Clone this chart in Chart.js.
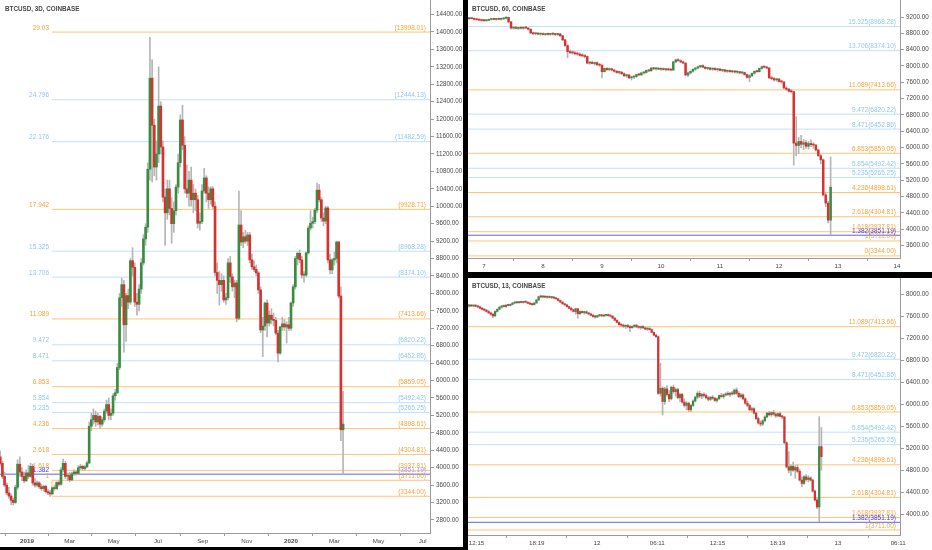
<!DOCTYPE html>
<html>
<head>
<meta charset="utf-8">
<script src="https://cdn.jsdelivr.net/npm/chart.js@4.4.1/dist/chart.umd.min.js"></script>
<style>
  html, body { margin: 0; padding: 0; background: #000; width: 932px; height: 550px; overflow: hidden; }
  .pane { position: absolute; background: #fff; }
  #p1 { left: 0; top: 0; width: 463px; height: 547px; }
  #p2 { left: 468px; top: 0; width: 464px; height: 272px; }
  #p3 { left: 468px; top: 278px; width: 464px; height: 272px; }
  canvas { display: block; }
</style>
</head>
<body>
<div class="pane" id="p1"><canvas id="c1" width="463" height="547"></canvas></div>
<div class="pane" id="p2"><canvas id="c2" width="464" height="272"></canvas></div>
<div class="pane" id="p3"><canvas id="c3" width="464" height="272"></canvas></div>
<script>
// fib extension levels (shared by all three panes)
const fibRatios = ['0', '1', '1.382', '1.618', '2.618', '4.236', '5.235', '5.854', '6.853', '8.471',
                   '9.472', '11.089', '13.706', '15.325', '17.942', '22.176', '24.796', '29.03'];
const fibPrices = [3344.00, 3711.00, 3851.19, 3937.81, 4304.81, 4898.61, 5265.25, 5492.42, 5859.05, 6452.86,
                   6820.22, 7413.66, 8374.10, 8968.28, 9928.71, 11482.59, 12444.13, 13998.01];

// 3D pane: x in days from 1 Jan 2019
const dayTicks3D = [0, 59, 120, 181, 243, 304, 365, 425, 486, 547];
const dayLabels3D = ['2019', 'Mar', 'May', 'Jul', 'Sep', 'Nov', '2020', 'Mar', 'May', 'Jul'];
const priceTicks3D = [2800, 3200, 3600, 4000, 4400, 4800, 5200, 5600, 6000, 6400, 6800, 7200, 7600, 8000, 8400,
                      8800, 9200, 9600, 10000, 10400, 10800, 11200, 11600, 12000, 12400, 12800, 13200, 13600, 14000, 14400];
const firstDay3D = -37;
// [open, high, low, close]
const candles3D = [
  [4250,4380,4050,4100],[4100,4150,3750,3800],[3800,3900,3560,3600],[3600,3650,3380,3420],[3420,3550,3300,3350],
  [3350,3400,3150,3250],[3250,3300,3140,3200],[3200,3600,3180,3550],[3550,4180,3500,4080],[4080,4250,3800,3900],
  [3900,4000,3700,3800],[3800,3900,3650,3700],[3700,3950,3680,3880],[3880,4050,3750,3800],[3800,4100,3780,4030],
  [4030,4080,3600,3650],[3650,3750,3550,3600],[3600,3700,3560,3650],[3650,3680,3520,3560],[3560,3620,3480,3520],
  [3520,3600,3460,3570],[3570,3600,3420,3450],[3450,3500,3380,3420],[3420,3480,3340,3400],[3400,3560,3380,3540],
  [3540,3600,3480,3520],[3520,3680,3500,3660],[3660,3700,3580,3620],[3620,4000,3600,3950],[3950,4200,3900,4100],
  [4100,4150,3750,3800],[3800,3880,3700,3820],[3820,3900,3680,3720],[3720,3900,3700,3860],[3860,3950,3820,3900],
  [3900,3930,3830,3870],[3870,4050,3850,4000],[4000,4080,3960,4030],[4030,4060,3950,3980],[3980,4050,3940,4020],
  [4020,4150,4000,4110],[4110,5050,4090,4950],[4950,5250,4850,5100],[5100,5350,5000,5200],[5200,5300,4950,5050],
  [5050,5250,4980,5180],[5180,5200,4900,5000],[5000,5150,4950,5100],[5100,5350,5050,5300],[5300,5550,5250,5450],
  [5450,5600,5100,5200],[5200,5350,5100,5250],[5250,5700,5200,5650],[5650,5800,5550,5720],[5720,6400,5700,6300],
  [6300,8000,6250,7900],[7900,8350,7700,8200],[8200,8300,6650,7280],[7280,8000,6900,7950],[7950,8100,7650,7800],
  [7800,8800,7750,8750],[8750,9050,8400,8600],[8600,8700,7700,7800],[7800,8000,7500,7750],[7750,8200,7600,8100],
  [8100,8800,8000,8700],[8700,9350,8650,9250],[9250,9600,9100,9520],[9520,11000,9400,10850],[10850,13880,10600,12940],
  [12940,13360,10560,11860],[11860,12000,10700,10900],[10900,11500,10600,11200],[11200,13200,11000,12300],[12300,12400,11200,11360],
  [11360,11500,10100,10210],[10210,10400,9100,9850],[9850,10600,9700,10400],[10400,10600,9800,9950],[9950,10200,9150,9600],
  [9600,10100,9400,9900],[9900,10500,9800,10440],[10440,11200,10300,11000],[11000,12100,10900,11980],[11980,12320,11300,11400],
  [11400,11600,10300,10400],[10400,10950,10200,10300],[10300,10800,10000,10600],[10600,10900,10000,10150],[10150,10500,9850,10300],
  [10300,10400,9900,10150],[10150,10250,9500,9610],[9610,9850,9450,9650],[9650,10500,9600,10350],[10350,10870,10300,10650],
  [10650,10700,10100,10300],[10300,10450,9950,10150],[10150,10450,10050,10400],[10400,10450,9950,10000],[10000,10100,8400,8480],
  [8480,8700,8000,8300],[8300,8500,7730,8200],[8200,8450,8050,8300],[8300,8400,7800,7850],[7850,8000,7750,7900],
  [7900,8800,7850,8700],[8700,8850,8250,8380],[8380,8450,8050,8150],[8150,8300,7900,8240],[8240,8300,7350,7430],
  [7430,10350,7400,9570],[9570,9900,9100,9180],[9180,9400,9050,9300],[9300,9450,9150,9200],[9200,9400,9100,9340],
  [9340,9400,8700,8770],[8770,8900,8550,8610],[8610,8750,8500,8550],[8550,8650,8400,8470],[8470,8500,8000,8080],
  [8080,8150,7100,7160],[7160,7450,6550,7250],[7250,7800,7150,7780],[7780,7850,7000,7320],[7320,7600,7250,7500],
  [7500,7650,7300,7400],[7400,7550,7250,7380],[7380,7450,7050,7090],[7090,7150,6430,6630],[6630,7250,6600,7230],
  [7230,7450,7150,7300],[7300,7400,7150,7230],[7230,7350,6860,7280],[7280,7450,7150,7200],[7200,7800,7150,7780],
  [7780,8200,7700,8150],[8150,8850,8100,8800],[8800,8950,8650,8920],[8920,9000,8700,8770],[8770,8850,8350,8420],
  [8420,8500,8250,8420],[8420,8950,8380,8930],[8930,9550,8900,9500],[9500,9900,9450,9610],[9610,9750,9500,9650],
  [9650,9950,9600,9910],[9910,10530,9850,10370],[10370,10500,10100,10150],[10150,10200,9650,9730],[9730,9850,9550,9660],
  [9660,10000,9600,9960],[9960,10000,8700,8770],[8770,8900,8450,8540],[8540,8800,8450,8770],[8770,8950,8650,8800],
  [8800,9200,8700,9180],[9180,9200,7900,7940],[7940,8150,4620,4870],[4870,5750,3850,5000]
];

// 60 pane: x in days of March 2020
const dayTicks60 = [7, 8, 9, 10, 11, 12, 13, 14];
const dayLabels60 = ['7', '8', '9', '10', '11', '12', '13', '14'];
const priceTicks60 = [3600, 4000, 4400, 4800, 5200, 5600, 6000, 6400, 6800, 7200, 7600, 8000, 8400, 8800, 9200];
const firstDay60 = 6.75;
const candles60 = [
  [9160,9190,9140,9170],[9170,9185,9150,9160],[9160,9175,9130,9145],[9145,9160,9120,9135],[9135,9150,9110,9125],
  [9125,9140,9100,9115],[9115,9135,9095,9110],[9110,9130,9090,9120],[9120,9150,9110,9140],[9140,9160,9125,9150],
  [9150,9165,9130,9140],[9140,9160,9120,9150],[9150,9170,9135,9145],[9145,9165,9125,9155],[9155,9180,9140,9170],
  [9170,9210,9150,9190],[9190,9200,9060,9080],[9080,9090,8900,8930],[8930,8960,8900,8940],[8940,8970,8910,8920],
  [8920,8950,8895,8935],[8935,8960,8910,8925],[8925,8955,8900,8940],[8940,8970,8915,8930],[8930,8945,8880,8900],
  [8900,8910,8790,8810],[8810,8830,8770,8790],[8790,8815,8765,8800],[8800,8820,8770,8780],[8780,8805,8755,8790],
  [8790,8810,8760,8770],[8770,8800,8750,8785],[8785,8805,8755,8775],[8775,8800,8750,8790],[8790,8810,8760,8780],
  [8780,8800,8745,8770],[8770,8795,8740,8785],[8785,8800,8720,8740],[8740,8750,8620,8640],[8640,8660,8480,8500],
  [8500,8520,8200,8350],[8350,8390,8300,8330],[8330,8370,8290,8320],[8320,8350,8270,8300],[8300,8340,8260,8290],
  [8290,8320,8240,8260],[8260,8300,8220,8250],[8250,8280,8200,8230],[8230,8240,8050,8070],[8070,8110,8040,8090],
  [8090,8120,8050,8060],[8060,8100,8020,8080],[8080,8100,8010,8030],[8030,8060,7990,8020],[8020,8030,7705,7860],
  [7860,7950,7850,7940],[7940,7960,7890,7910],[7910,7950,7880,7930],[7930,7945,7880,7900],[7900,7920,7850,7870],
  [7870,7890,7820,7840],[7840,7870,7800,7850],[7850,7860,7790,7810],[7810,7830,7740,7760],[7760,7800,7720,7780],
  [7780,7790,7690,7710],[7710,7750,7655,7730],[7730,7760,7690,7740],[7740,7800,7720,7790],[7790,7820,7760,7780],
  [7780,7840,7770,7830],[7830,7860,7800,7840],[7840,7900,7820,7890],[7890,7910,7860,7880],[7880,7960,7870,7950],
  [7950,7970,7910,7930],[7930,7960,7900,7945],[7945,7965,7910,7920],[7920,7950,7890,7935],[7935,7955,7900,7910],
  [7910,7940,7880,7925],[7925,7945,7890,7905],[7905,7930,7880,7900],[7900,8120,7890,8100],[8100,8170,8080,8150],
  [8150,8180,8110,8130],[8130,8150,8080,8100],[8100,8120,8060,8070],[8070,8080,7760,7780],[7780,7850,7740,7830],
  [7830,7880,7800,7870],[7870,7930,7850,7920],[7920,7960,7890,7950],[7950,8000,7930,7980],[7980,8020,7950,8010],
  [8010,8030,7960,7970],[7970,7990,7920,7940],[7940,7970,7910,7950],[7950,7970,7900,7920],[7920,7960,7890,7940],
  [7940,7960,7900,7910],[7910,7940,7870,7925],[7925,7945,7880,7890],[7890,7920,7860,7905],[7905,7920,7850,7870],
  [7870,7900,7840,7880],[7880,7905,7840,7860],[7860,7890,7830,7875],[7875,7890,7830,7850],[7850,7880,7820,7860],
  [7860,7870,7810,7830],[7830,7860,7800,7840],[7840,7850,7770,7790],[7790,7800,7700,7720],[7720,7790,7615,7760],
  [7760,7830,7740,7820],[7820,7880,7800,7870],[7870,7900,7840,7860],[7860,7950,7850,7940],[7940,8000,7920,7980],
  [7980,8010,7950,7970],[7970,7995,7930,7950],[7950,7960,7690,7710],[7710,7750,7660,7690],[7690,7720,7630,7660],
  [7660,7700,7620,7680],[7680,7690,7600,7620],[7620,7650,7580,7610],[7610,7620,7440,7460],[7460,7490,7400,7430],
  [7430,7450,7360,7380],[7380,7420,7340,7370],[7370,7380,5570,6110],[6110,6760,5800,6050],[6050,6250,5850,6150],
  [6150,6300,6000,6080],[6080,6200,5950,6120],[6120,6180,5980,6030],[6030,6150,5960,6100],[6100,6190,6020,6070],
  [6070,6120,5980,6060],[6060,6080,5920,5940],[5940,5960,5780,5800],[5800,5830,5600,5700],[5700,5720,4820,4840],
  [4840,4900,4550,4640],[4640,4680,4150,4220],[4220,5770,3874,5030]
];

// 13 pane: x in hours from 12 Mar 2020 00:00
const hourTicks13 = [-12, -6, 0, 6, 12, 18, 24, 30];
const hourLabels13 = ['12:15', '18:19', '12', '06:11', '12:15', '18:19', '13', '06:11'];
const priceTicks13 = [4000, 4400, 4800, 5200, 5600, 6000, 6400, 6800, 7200, 7600, 8000];
const firstHour13 = -12.75;
const candles13 = [
  [7790,7820,7770,7800],[7800,7815,7780,7790],[7790,7810,7775,7805],[7805,7820,7780,7785],[7785,7800,7760,7775],
  [7775,7790,7740,7750],[7750,7765,7720,7730],[7730,7745,7700,7715],[7715,7730,7680,7690],[7690,7710,7650,7665],
  [7665,7680,7620,7640],[7640,7660,7577,7610],[7610,7700,7600,7690],[7690,7740,7680,7730],[7730,7780,7720,7770],
  [7770,7800,7750,7790],[7790,7810,7770,7780],[7780,7815,7765,7805],[7805,7825,7790,7800],[7800,7830,7790,7820],
  [7820,7850,7810,7845],[7845,7865,7830,7855],[7855,7870,7835,7850],[7850,7875,7840,7865],[7865,7880,7845,7855],
  [7855,7875,7840,7870],[7870,7885,7850,7860],[7860,7870,7830,7840],[7840,7855,7815,7825],[7825,7840,7800,7815],
  [7815,7850,7805,7845],[7845,7910,7840,7900],[7900,7970,7890,7960],[7960,7985,7940,7955],[7955,7975,7935,7965],
  [7965,7980,7945,7950],[7950,7970,7930,7960],[7960,7975,7935,7945],[7945,7965,7925,7950],[7950,7960,7920,7935],
  [7935,7950,7910,7920],[7920,7930,7880,7890],[7890,7900,7850,7860],[7860,7870,7820,7830],[7830,7840,7800,7810],
  [7810,7820,7770,7780],[7780,7790,7740,7750],[7750,7765,7710,7720],[7720,7730,7680,7690],[7690,7750,7640,7740],
  [7740,7750,7566,7650],[7650,7700,7630,7690],[7690,7700,7660,7670],[7670,7695,7640,7685],[7685,7700,7650,7660],
  [7660,7675,7630,7645],[7645,7660,7610,7620],[7620,7640,7580,7600],[7600,7620,7570,7590],[7590,7625,7580,7615],
  [7615,7635,7595,7625],[7625,7640,7600,7610],[7610,7630,7590,7620],[7620,7640,7605,7630],[7630,7645,7605,7615],
  [7615,7630,7590,7605],[7605,7615,7560,7570],[7570,7580,7520,7530],[7530,7545,7480,7490],[7490,7500,7440,7450],
  [7450,7470,7420,7440],[7440,7460,7400,7420],[7420,7450,7380,7435],[7435,7455,7400,7410],[7410,7440,7322,7395],
  [7395,7430,7380,7420],[7420,7450,7400,7440],[7440,7455,7400,7410],[7410,7430,7380,7400],[7400,7425,7370,7415],
  [7415,7435,7385,7390],[7390,7410,7355,7370],[7370,7395,7345,7380],[7380,7400,7350,7360],[7360,7375,7300,7310],
  [7310,7320,7250,7260],[7260,7275,7220,7231],[7231,7240,6180,6200],[6200,6747,6150,6290],[6290,6320,5805,6050],
  [6050,6310,6000,6280],[6280,6340,6150,6180],[6180,6250,6050,6100],[6100,6330,6080,6310],[6310,6350,6200,6230],
  [6230,6300,6150,6270],[6270,6290,6100,6120],[6120,6200,6050,6180],[6180,6200,6020,6040],[6040,6100,5950,5980],
  [5980,6050,5900,6020],[6020,6040,5870,5900],[5900,6000,5865,5980],[5980,6080,5960,6060],[6060,6150,6040,6130],
  [6130,6230,6100,6200],[6200,6240,6120,6150],[6150,6200,6100,6180],[6180,6210,6130,6160],[6160,6190,6100,6120],
  [6120,6150,6060,6090],[6090,6140,6070,6130],[6130,6160,6090,6110],[6110,6130,6050,6070],[6070,6120,6040,6100],
  [6100,6170,6090,6160],[6160,6200,6130,6140],[6140,6190,6110,6170],[6170,6210,6150,6190],[6190,6230,6160,6180],
  [6180,6220,6140,6200],[6200,6240,6170,6190],[6190,6280,6180,6260],[6260,6300,6180,6200],[6200,6230,6120,6140],
  [6140,6200,6110,6170],[6170,6190,6080,6100],[6100,6120,6000,6020],[6020,6060,5950,5980],[5980,6000,5880,5900],
  [5900,5950,5860,5920],[5920,5940,5820,5840],[5840,5860,5720,5740],[5740,5770,5640,5660],[5660,5700,5600,5640],
  [5640,5720,5610,5700],[5700,5790,5680,5770],[5770,5850,5750,5840],[5840,5870,5790,5810],[5810,5860,5780,5850],
  [5850,5890,5800,5820],[5820,5850,5760,5790],[5790,5840,5770,5830],[5830,5860,5770,5780],[5780,5800,5740,5769],
  [5769,5780,5280,5300],[5300,5320,4840,4860],[4860,5137,4750,4800],[4800,4900,4700,4870],[4870,4950,4780,4800],
  [4800,4880,4652,4850],[4850,4900,4760,4780],[4780,4820,4600,4620],[4620,4680,4500,4560],[4560,4700,4540,4680],
  [4680,4720,4600,4630],[4630,4700,4590,4660],[4660,4680,4600,4620],[4620,4640,4400,4420],[4420,4440,4240,4257],
  [4257,4300,4100,4130],[4130,5775,3862,5230],[5230,5578,4800,5046]
];

// styles
const UP = '#3a8d40', DOWN = '#d8312e', WICK = '#b5b5b5', AXIS = '#9c9c9c', INK = '#474747';
const fibTone = ['o','o','b','o','o','o','l','l','o','l','l','o','l','l','o','l','l','o'];
const LINE = { o: '#ffc477', l: '#c2e0f7', b: '#6262f4' };
const TEXT = { o: '#f6a43a', l: '#92c7ef', b: '#3b3bee' };
const FONT = "'Liberation Sans', Arial, sans-serif";

Chart.defaults.font.family = FONT;

const fibLabels = {
  id: 'fibLabels',
  afterDatasetsDraw(chart, args, o) {
    const { ctx, chartArea: a, scales: { x, y } } = chart;
    ctx.save();
    ctx.beginPath();
    ctx.rect(a.left, a.top, a.right - a.left, a.bottom - a.top);
    ctx.clip();
    ctx.font = '6.5px ' + FONT;
    ctx.textBaseline = 'bottom';
    ctx.textAlign = 'right';
    fibPrices.forEach((p, k) => {
      const py = y.getPixelForValue(p) - 1;
      const tone = fibTone[k];
      const price = '(' + p.toFixed(2) + ')';
      ctx.fillStyle = TEXT[tone];
      if (o.split) {
        if (fibRatios[k] !== '0') ctx.fillText(fibRatios[k], x.getPixelForValue(o.from) - 3, py);
        if (tone === 'b') ctx.fillStyle = '#9d9dfa';
        ctx.fillText(price, a.right - 4, py);
      } else {
        ctx.fillText(fibRatios[k] + price, a.right - 4, py);
      }
    });
    ctx.restore();

    ctx.save();
    ctx.font = 'bold 6.3px ' + FONT;
    ctx.fillStyle = INK;
    ctx.textBaseline = 'middle';
    ctx.textAlign = 'left';
    ctx.fillText(o.title, o.titleX, o.titleY);
    ctx.restore();
  }
};

function drawPane(id, p) {
  const canvas = document.getElementById(id);
  const W = canvas.width, H = canvas.height;
  const xs = p.candles.map((c, i) => p.first + i * p.step);

  const levels = fibPrices.map((price, k) => ({
    type: 'line',
    data: [{ x: fibTone[k] === 'b' ? p.xMin : p.fibFrom, y: price }, { x: p.xMax, y: price }],
    borderColor: LINE[fibTone[k]], borderWidth: 1, pointRadius: 0, order: 3
  }));
  if (p.fibFrom > p.xMin) {
    levels.push({
      type: 'line',
      data: [{ x: p.fibFrom, y: fibPrices[0] }, { x: p.fibFrom, y: fibPrices[1] }],
      borderColor: LINE.o, borderWidth: 1, pointRadius: 0, order: 3
    });
  }

  new Chart(canvas, {
    type: 'bar',
    data: {
      datasets: [
        ...levels,
        {
          data: p.candles.map((c, i) => ({ x: xs[i], y: [Math.min(c[0], c[2], c[3]), Math.max(c[0], c[1], c[3])] })),
          backgroundColor: WICK, barThickness: 1, grouped: false, order: 2
        },
        {
          data: p.candles.map((c, i) => ({ x: xs[i], y: [Math.min(c[0], c[3]), Math.max(c[0], c[3])] })),
          backgroundColor: p.candles.map(c => c[3] >= c[0] ? UP : DOWN),
          barThickness: p.body, minBarLength: 1, grouped: false, order: 1
        }
      ]
    },
    options: {
      responsive: false,
      animation: false,
      events: [],
      layout: { padding: 0 },
      plugins: {
        legend: { display: false },
        tooltip: { enabled: false },
        fibLabels: { split: p.split, from: p.fibFrom, title: p.title, titleX: p.titleX, titleY: p.titleY }
      },
      scales: {
        x: {
          type: 'linear', min: p.xMin, max: p.xMax, offset: false,
          afterBuildTicks: s => { s.ticks = p.xTicks.map(v => ({ value: v })); },
          afterFit: s => { s.height = H - p.bottom; s.paddingLeft = 0; s.paddingRight = 0; },
          ticks: {
            autoSkip: false, maxRotation: 0, minRotation: 0, padding: 2, color: INK,
            callback: (v, i) => p.xLabels[i],
            font: ctx => ({ size: 6.2, weight: /^\d{4}$/.test(p.xLabels[ctx.index]) ? 'bold' : 'normal' })
          },
          grid: { drawOnChartArea: false, drawTicks: true, tickLength: 3, color: AXIS },
          border: { color: AXIS }
        },
        y: {
          type: 'linear', position: 'right', min: p.yMin, max: p.yMax,
          afterBuildTicks: s => { s.ticks = p.yTicks.map(v => ({ value: v })); },
          afterFit: s => { s.width = W - p.right; s.paddingTop = 0; s.paddingBottom = 0; },
          ticks: { padding: 2, color: INK, font: { size: 6.3 }, callback: v => v.toFixed(2) },
          grid: { drawOnChartArea: false, drawTicks: true, tickLength: 4, color: AXIS },
          border: { color: AXIS }
        }
      }
    },
    plugins: [fibLabels]
  });
}

drawPane('c1', {
  candles: candles3D, first: firstDay3D, step: 3, body: 2,
  xMin: -37.3, xMax: 557.2, yMin: 2501, yMax: 14734,
  xTicks: dayTicks3D, xLabels: dayLabels3D, yTicks: priceTicks3D,
  right: 430, bottom: 533, fibFrom: 34.6, split: true,
  title: 'BTCUSD, 3D, COINBASE', titleX: 5, titleY: 9.5
});

drawPane('c2', {
  candles: candles60, first: firstDay60, step: 1 / 24, body: 1.8,
  xMin: 6.729, xMax: 14.051, yMin: 3293, yMax: 9617,
  xTicks: dayTicks60, xLabels: dayLabels60, yTicks: priceTicks60,
  right: 432, bottom: 258, fibFrom: 6.729, split: false,
  title: 'BTCUSD, 60, COINBASE', titleX: 4, titleY: 9.5
});

drawPane('c3', {
  candles: candles13, first: firstHour13, step: 13 / 60, body: 1.6,
  xMin: -12.85, xMax: 30.18, yMin: 3620, yMax: 8300,
  xTicks: hourTicks13, xLabels: hourLabels13, yTicks: priceTicks13,
  right: 432, bottom: 257, fibFrom: -12.85, split: false,
  title: 'BTCUSD, 13, COINBASE', titleX: 4, titleY: 8.5
});
</script>
